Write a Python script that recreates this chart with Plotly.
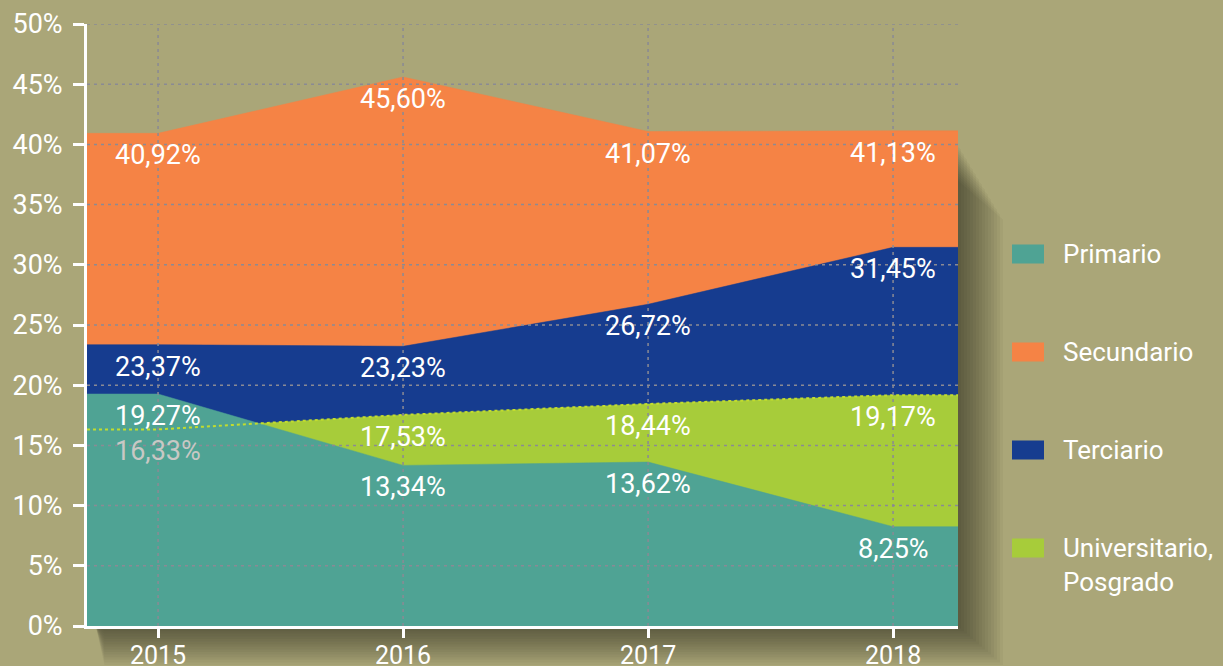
import plotly.graph_objects as go

# ---------------- data ----------------
years = [2015, 2016, 2017, 2018]
year_labels = ["2015", "2016", "2017", "2018"]
primario = [19.27, 13.34, 13.62, 8.25]
secundario = [40.92, 45.60, 41.07, 41.13]
terciario = [23.37, 23.23, 26.72, 31.45]
universitario = [16.33, 17.53, 18.44, 19.17]
y_ticks = [0, 5, 10, 15, 20, 25, 30, 35, 40, 45, 50]
y_tick_labels = [f"{t}%" for t in y_ticks]
legend_names = ["Primario", "Secundario", "Terciario", "Universitario,<br>Posgrado"]

# ---------------- style ----------------
BG = "#AAA678"
C_PRI = "#4FA394"
C_SEC = "#F58345"
C_TER = "#163C8F"
C_UNI = "#A7CC3A"
C_UNI_LINE = "#C2DC2E"
GRID = "#8A8A94"
FONT = "Roboto"
X_LEFT, X_RIGHT = 2014.71, 2018.265

xs = [X_LEFT] + years + [X_RIGHT]


def ext(v):
    return [v[0]] + v + [v[-1]]


fig = go.Figure()
layers = [("Secundario", secundario, C_SEC),
          ("Terciario", terciario, C_TER),
          ("Universitario, Posgrado", universitario, C_UNI),
          ("Primario", primario, C_PRI)]
for name, vals, col in layers:
    fig.add_trace(go.Scatter(x=xs, y=ext(vals), mode="lines", fill="tozeroy",
                             fillcolor=col, line=dict(color=col, width=0.5),
                             name=name, showlegend=False, hoverinfo="skip"))
# dashed outline of the partially hidden series
fig.add_trace(go.Scatter(x=xs, y=ext(universitario), mode="lines",
                         line=dict(color=C_UNI_LINE, width=2, dash="3px,3px"),
                         showlegend=False, hoverinfo="skip"))

# ---------------- value labels ----------------
annotations = []
for name, vals, col in layers:
    for i, (x, v) in enumerate(zip(years, vals)):
        hidden = (vals is universitario and v < primario[i])
        annotations.append(dict(
            x=x, y=v, xref="x", yref="y", showarrow=False,
            text=f"{v:.2f}".replace(".", ",") + "%",
            yanchor="middle", yshift=-22,
            font=dict(family=FONT, size=27, color="#C8C8C4" if hidden else "white")))

# ---------------- grid (drawn above the areas) ----------------
shapes = []
for t in y_ticks[1:]:
    shapes.append(dict(type="line", xref="paper", yref="y", x0=0, x1=1, y0=t, y1=t,
                       line=dict(color=GRID, width=1.5, dash="3px,4px"), layer="above"))
for x in years:
    shapes.append(dict(type="line", xref="x", yref="paper", x0=x, x1=x, y0=0, y1=1,
                       line=dict(color=GRID, width=1.5, dash="3px,4px"), layer="above"))

# ---------------- soft drop shadow ----------------
PW, PH = 871.0, 602.0
for k in range(1, 16):
    dx = 3.0 * k / PW
    dy = 2.6 * k / PH
    top = 0.80 - 0.004 * k
    path = (f"M 0.01,0 L 1,0 L 1,{top} L {1+dx},{top-dy} L {1+dx},{-dy} "
            f"L 0.02,{-dy} Z")
    shapes.append(dict(type="path", xref="paper", yref="paper", path=path,
                       fillcolor="black", opacity=0.035, line=dict(width=0),
                       layer="below"))

# ---------------- custom legend ----------------
legend_colors = [C_PRI, C_SEC, C_TER, C_UNI]
legend_py = [254, 352, 450, 548]
for name, col, py in zip(legend_names, legend_colors, legend_py):
    yc = (626 - py) / PH
    shapes.append(dict(type="rect", xref="paper", yref="paper",
                       x0=(1012 - 87) / PW, x1=(1044 - 87) / PW,
                       y0=yc - 9.5 / PH, y1=yc + 9.5 / PH,
                       fillcolor=col, line=dict(width=0), layer="above"))
    annotations.append(dict(x=(1061 - 87) / PW, y=yc + 17 / PH, xref="paper", yref="paper",
                            xanchor="left", yanchor="top", align="left", showarrow=False,
                            text=name, font=dict(family=FONT, size=26, color="white")))

fig.update_layout(
    width=1223, height=666,
    margin=dict(l=87, r=265, t=24, b=40, autoexpand=False),
    paper_bgcolor=BG, plot_bgcolor=BG,
    showlegend=False,
    shapes=shapes, annotations=annotations,
    xaxis=dict(range=[X_LEFT, X_RIGHT], tickvals=years, ticktext=year_labels,
               automargin=False,
               showgrid=False, zeroline=False, showline=True, linecolor="white",
               linewidth=3, ticks="outside", ticklen=9, tickwidth=3, tickcolor="white",
               ticklabelstandoff=-4,
               tickfont=dict(family=FONT, size=25, color="white"), layer="above traces"),
    yaxis=dict(range=[0, 50], tickvals=y_ticks, ticktext=y_tick_labels,
               automargin=False,
               showgrid=False, zeroline=False, showline=True, linecolor="white",
               linewidth=3, ticks="outside", ticklen=11, tickwidth=3, tickcolor="white",
               ticklabelstandoff=5,
               tickfont=dict(family=FONT, size=27, color="white"), layer="above traces"),
)

fig.write_html("out.html", config={"displayModeBar": False},
               post_script=f"document.body.style.margin='0';document.body.style.background='{BG}';")
